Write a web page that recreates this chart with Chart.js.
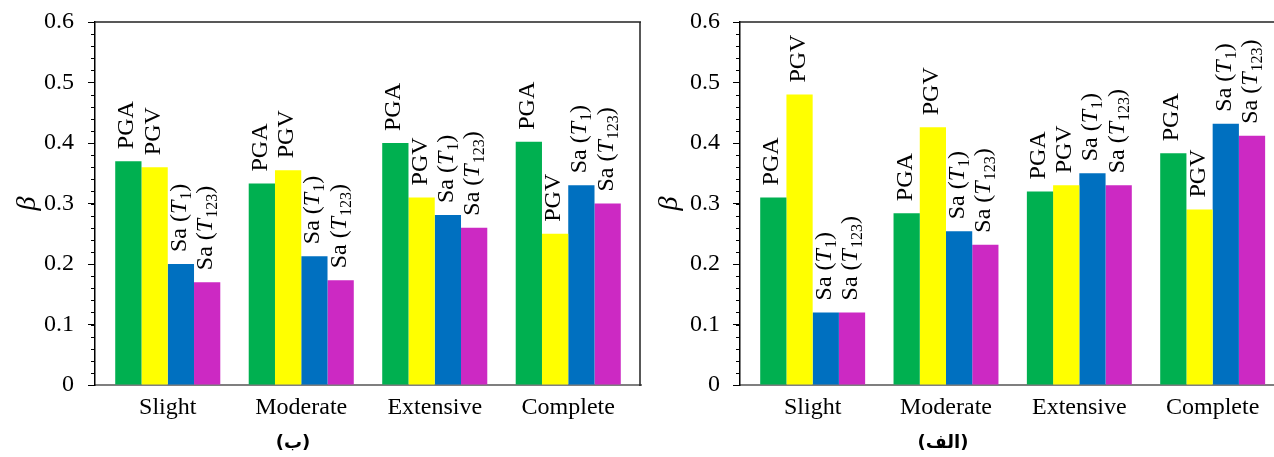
<!DOCTYPE html>
<html>
<head>
<meta charset="utf-8">
<script src="https://cdn.jsdelivr.net/npm/chart.js@4/dist/chart.umd.min.js"></script>
<style>
body{margin:0;background:#fff;}
#wrap{position:relative;width:1274px;height:457px;overflow:hidden;}
canvas{position:absolute;top:0;}
#cB{left:0;}
#cA{left:642px;}
.cap{position:absolute;top:431px;width:100px;text-align:center;font:bold 18px 'DejaVu Sans';color:#000;}
</style>
</head>
<body>
<div id="wrap">
  <canvas id="cB" width="642" height="457"></canvas>
  <canvas id="cA" width="632" height="457"></canvas>
  <div class="cap" style="left:243px" dir="rtl">(ب)</div>
  <div class="cap" style="left:893px" dir="rtl">(الف)</div>
</div>
<script>
// categories + series
const categories = ['Slight','Moderate','Extensive','Complete'];
const seriesNames = ['PGA','PGV','Sa','Sa'];
const seriesSubs  = ['','','1','123'];
const colors = ['#00B050','#FFFF00','#0070C0','#CC29C3'];

// chart (ب) - left
const pgaB    = [0.370,0.333,0.400,0.402];
const pgvB    = [0.360,0.355,0.310,0.250];
const saT1B   = [0.200,0.213,0.281,0.330];
const saT123B = [0.170,0.173,0.260,0.300];

// chart (الف) - right
const pgaA    = [0.310,0.284,0.320,0.383];
const pgvA    = [0.480,0.426,0.330,0.290];
const saT1A   = [0.120,0.254,0.350,0.432];
const saT123A = [0.120,0.232,0.330,0.412];

// y axis
const yMin = 0, yMax = 0.6, yStep = 0.1, yMinor = 0.02;

const SERIF = "'Liberation Serif', 'Times New Roman', serif";

// rotated bar labels, Sa (T_sub) built from parts
function drawLabel(ctx, i, x, y){
  ctx.save();
  ctx.translate(x, y); ctx.rotate(-Math.PI/2);
  ctx.fillStyle = '#000'; ctx.textAlign = 'left'; ctx.textBaseline = 'alphabetic';
  const norm = '24px '+SERIF, ital = 'italic 24px '+SERIF, small = '16px '+SERIF;
  let parts;
  if(!seriesSubs[i]) parts = [[seriesNames[i], norm, 0]];
  else parts = [[seriesNames[i]+' (', norm, 0],['T', ital, 0],[seriesSubs[i], small, 5],[')', norm, 0]];
  let px = 0;
  for(const [t,f,dy] of parts){ ctx.font = f; ctx.fillText(t, px, dy); px += ctx.measureText(t).width + (f===ital?1:0); }
  ctx.restore();
}

const labelPlugin = {
  id:'barLabels',
  afterDatasetsDraw(chart){
    const ctx = chart.ctx;
    chart.data.datasets.forEach((ds,i)=>{
      chart.getDatasetMeta(i).data.forEach(bar=> drawLabel(ctx, i, bar.x+5, bar.y-12));
    });
  }
};

const framePlugin = {
  id:'frame',
  afterDraw(chart, args, opts){
    const {ctx, chartArea:a} = chart; const y = chart.scales.y;
    ctx.save();
    ctx.strokeStyle = '#222'; ctx.lineWidth = 1.5;
    ctx.beginPath(); ctx.moveTo(a.left, a.top); ctx.lineTo(a.right, a.top);
    if(opts.right){ ctx.moveTo(a.right-1, a.top); ctx.lineTo(a.right-1, a.bottom+1); }
    ctx.stroke();
    // minor ticks
    ctx.strokeStyle = '#000'; ctx.lineWidth = 1;
    ctx.beginPath();
    for(let v=yMin; v<=yMax+1e-9; v+=yMinor){
      const p = Math.round(y.getPixelForValue(v))+0.5;
      ctx.moveTo(a.left-4, p); ctx.lineTo(a.left, p);
    }
    ctx.stroke();
    ctx.restore();
  }
};

function makeChart(id, series, yWidth, padRight, rightBorder, xMin, xMax, tickPad){
  return new Chart(document.getElementById(id), {
    type:'bar',
    data:{
      labels: categories.map((c,i)=>i),
      datasets: series.map((d,i)=>({ label: seriesNames[i]+seriesSubs[i], data:d, backgroundColor:colors[i], borderWidth:0, categoryPercentage:0.787, barPercentage:1 }))
    },
    options:{
      responsive:false, animation:false, devicePixelRatio:1,
      layout:{ padding:{ top:22, right:padRight, left:0, bottom:0 } },
      plugins:{ legend:{display:false}, tooltip:{enabled:false}, frame:{ right:rightBorder } },
      scales:{
        x:{
          type:'linear', min:xMin, max:xMax, offset:false,
          grid:{ display:false },
          border:{ color:'#7f7f7f', width:2 },
          ticks:{ color:'#000', font:{ family:SERIF, size:24 }, padding:0, autoSkip:false, maxRotation:0,
                  callback: v=> categories[v] ?? '' },
          afterBuildTicks: s=>{ s.ticks = categories.map((c,i)=>({ value:i })); },
          afterFit: s=>{ s.height = 72; s.paddingLeft = 0; s.paddingRight = 0; }
        },
        y:{
          min:yMin, max:yMax,
          ticks:{ stepSize:yStep, color:'#000', font:{ family:SERIF, size:24 }, padding:tickPad,
                  callback: v=> Math.abs(v)<1e-9 ? '0' : v.toFixed(1) },
          grid:{ drawOnChartArea:false, tickLength:7, color:'#000' },
          border:{ color:'#000', width:1.5 },
          title:{ display:true, text:'β', color:'#000', font:{ family:SERIF, size:28, style:'italic' }, padding:{ top:11, bottom:0 } },
          afterFit: s=>{ s.width = yWidth; s.paddingTop = 0; s.paddingBottom = 0; }
        }
      }
    },
    plugins:[labelPlugin, framePlugin]
  });
}

makeChart('cB', [pgaB, pgvB, saT1B, saT123B], 95, 1, true, -0.545, 3.545, 14);
makeChart('cA', [pgaA, pgvA, saT1A, saT123A], 98, 0, false, -0.545, 3.46, 13);
</script>
</body>
</html>
